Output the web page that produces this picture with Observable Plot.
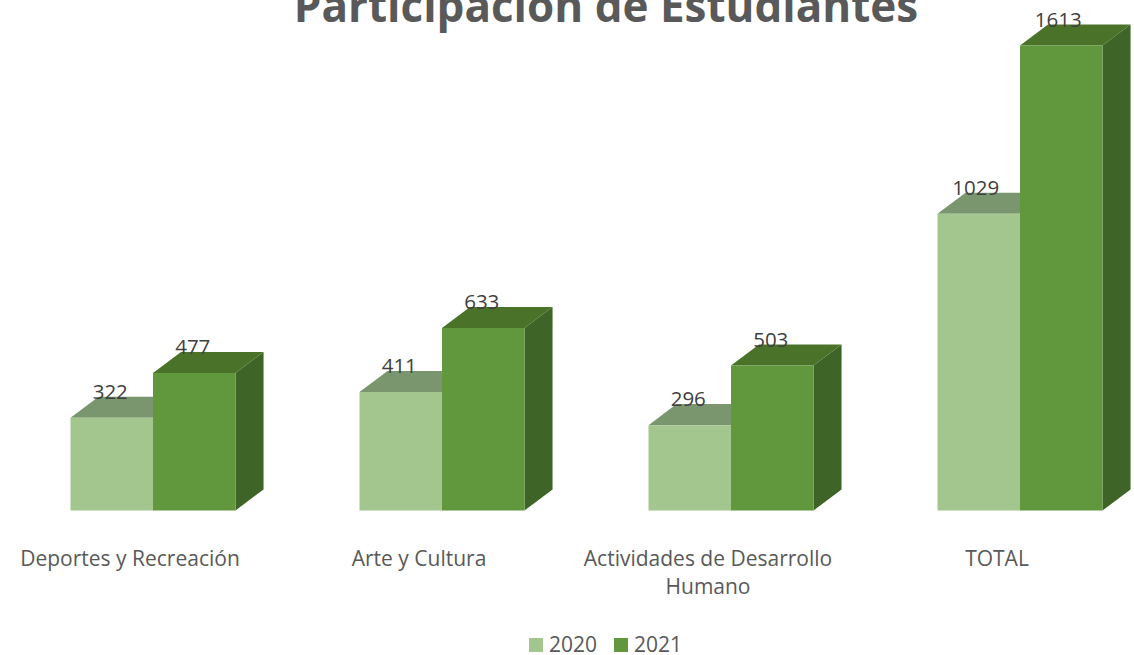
<!DOCTYPE html>
<html lang="es">
<head>
<meta charset="utf-8">
<script src="https://cdn.jsdelivr.net/npm/d3@7"></script>
<script src="https://cdn.jsdelivr.net/npm/@observablehq/plot@0.6"></script>
<style>
  html, body { margin: 0; padding: 0; background: #fff; overflow: hidden; }
  body { width: 1134px; height: 655px; position: relative; font-family: "Open Sans", sans-serif; }
  #title { position: relative; z-index: 2; height: 20px; }
  #title span { position: absolute; left: 0; width: 1212px; top: -21px; text-align: center; font-size: 44px; line-height: 52px; font-weight: 700; color: #595959; white-space: nowrap; }
  #chart { height: 610px; }
  #chart svg { display: block; overflow: visible; }
  #legend { position: relative; height: 25px; font-size: 21px; color: #595959; }
  #legend i { position: absolute; top: 8px; width: 14px; height: 14px; }
  #legend span { position: absolute; top: 3px; line-height: 22px; }
</style>
</head>
<body>
<div id="title"><span>Participación de Estudiantes</span></div>
<div id="chart"></div>
<div id="legend"></div>
<script>
const categories = ["Deportes y Recreación", "Arte y Cultura", "Actividades de Desarrollo\nHumano", "TOTAL"];
const values2020 = [322, 411, 296, 1029];
const values2021 = [477, 633, 503, 1613];
const years = ["2020", "2021"];

const colors = {
  "2020": { front: "#a3c68f", top: "#7a966f", side: "#6f8f5f" },
  "2021": { front: "#61983e", top: "#4a7329", side: "#3f6428" }
};

// bar geometry, in scale units (1 unit of x = one category slot)
const barWidth = 0.2855;
const depthX = 0.097;
const depthY = 73;

const bars = years.flatMap((year, s) =>
  categories.map((category, i) => {
    const value = (s === 0 ? values2020 : values2021)[i];
    const x1 = i + (s - 1) * barWidth;
    return { year, category, i, value, x1, x2: x1 + barWidth };
  })
);

function face(bar, kind) {
  const { x1, x2, value } = bar;
  const corners = {
    top: [[x1, value], [x2, value], [x2 + depthX, value + depthY], [x1 + depthX, value + depthY]],
    side: [[x2, 0], [x2, value], [x2 + depthX, value + depthY], [x2 + depthX, depthY]],
    front: [[x1, 0], [x1, value], [x2, value], [x2, 0]]
  }[kind];
  return corners.map(([x, y]) => ({ x, y }));
}

const faceMarks = (bar) => ["side", "top", "front"].map((kind) =>
  Plot.line(face(bar, kind), { x: "x", y: "y", fill: colors[bar.year][kind], curve: "linear-closed" })
);

const valueLabels = (data, dx) => Plot.text(data, {
  x: (d) => (d.x1 + d.x2) / 2, y: "value", text: (d) => String(d.value),
  dx, dy: -25.5, fontSize: 20.5, fill: "#404040"
});

const slot = 289;
const svg = Plot.plot({
  width: 1134,
  height: 610,
  margin: 0,
  style: { background: "transparent", fontFamily: "'Open Sans', sans-serif" },
  x: { type: "linear", domain: [-152.5 / slot, (1134 - 152.5) / slot], range: [0, 1134], axis: null },
  y: { type: "linear", domain: [0, 1613], range: [490, 25], axis: null },
  marks: [
    ...bars.filter((b) => b.year === "2020").flatMap(faceMarks),
    ...bars.filter((b) => b.year === "2021").flatMap(faceMarks),
    valueLabels(bars.filter((b) => b.value < 1000), -1.5),
    valueLabels(bars.filter((b) => b.value >= 1000), -3),
    Plot.text(categories.map((name, i) => ({ name, i })), {
      x: "i", y: 0, text: "name", dx: -23, dy: 36, fontSize: 21, lineHeight: 1.333,
      lineAnchor: "top", textAnchor: "middle", fill: "#595959"
    })
  ]
});
document.getElementById("chart").append(svg);

const legend = document.getElementById("legend");
[[529, 549], [614, 634]].forEach(([sx, tx], k) => {
  const sw = document.createElement("i");
  sw.style.left = sx + "px";
  sw.style.background = colors[years[k]].front;
  const label = document.createElement("span");
  label.style.left = tx + "px";
  label.textContent = years[k];
  legend.append(sw, label);
});
</script>
</body>
</html>
